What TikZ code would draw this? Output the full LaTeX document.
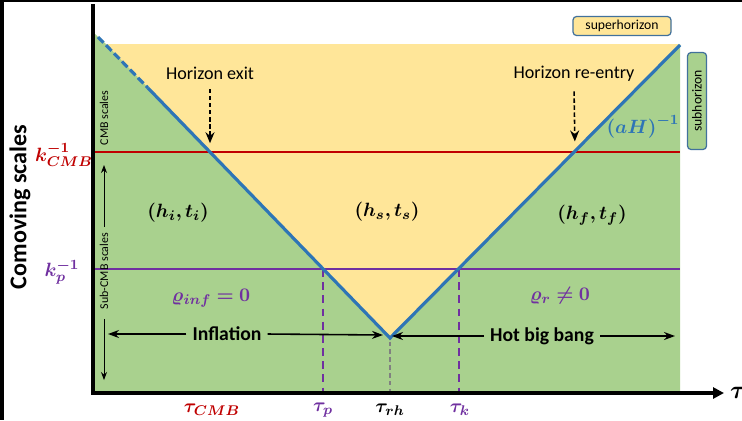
\documentclass[tikz,border=0pt]{standalone}
\usepackage{fontspec}
\setmainfont{Carlito}
\usepackage{bm}
\usetikzlibrary{arrows.meta,positioning,calc}
\definecolor{hzgreen}{HTML}{A9D18E}
\definecolor{hzyellow}{HTML}{FFE699}
\definecolor{hzblue}{HTML}{2E75B6}
\definecolor{cmbred}{HTML}{C00000}
\definecolor{ppurple}{HTML}{7030A0}
\definecolor{boxedge}{HTML}{41719C}
\tikzset{
    axisline/.style={line width=2.3pt},
    hubble/.style={hzblue,line width=1.8pt},
    scaleline/.style={line width=1.1pt},
    droplinep/.style={ppurple,line width=1.1pt,dash pattern=on 4.5pt off 3pt},
    droplinerh/.style={gray,line width=0.6pt,dash pattern=on 2.5pt off 2pt},
    crossarrow/.style={-{Stealth[length=2.2mm,width=1.8mm]},line width=0.9pt,dash pattern=on 2.5pt off 1.5pt},
    eraarrow/.style={-{Stealth[length=2.2mm,width=1.6mm]},line width=0.9pt},
    rangearrow/.style={-{Stealth[length=1.6mm,width=1.2mm]},line width=0.5pt},
    phaselabel/.style={font=\fontsize{11}{13}\selectfont},
    ticklabel/.style={font=\fontsize{11}{13}\selectfont},
    textlabel/.style={font=\fontsize{10.3}{12}\selectfont},
    eralabel/.style={font=\fontsize{11.2}{13}\selectfont\bfseries},
    rangelabel/.style={font=\fontsize{6.8}{8}\selectfont,rotate=90},
    regionbox/.style={draw=boxedge,rounded corners=2pt,line width=0.7pt,inner sep=0pt,font=\fontsize{7.8}{9}\selectfont}
}

\begin{document}
\begin{tikzpicture}[x=0.02cm,y=-0.02cm]
    \useasboundingbox (0,0) rectangle (742,420);
    \fill[white] (0,0) rectangle (742,420);
    \fill[black] (0,0) rectangle (4,420);
    \fill[black] (0,0) rectangle (742,2);
    \coordinate (origin) at (93,393);
    \coordinate (ytop) at (93,4);
    \coordinate (xend) at (724,393);
    \coordinate (hzstart) at (98,37);
    \coordinate (hzdash) at (148,88);
    \coordinate (vtx) at (390,338);
    \coordinate (hzend) at (680,45);
    \coordinate (exit) at (210,152);
    \coordinate (reentry) at (575,152);
    \coordinate (pcross) at (323,269);
    \coordinate (kcross) at (459,269);
    \coordinate (cmbL) at (93,152);
    \coordinate (cmbR) at (680,152);
    \coordinate (pL) at (93,269);
    \coordinate (pR) at (680,269);
    % regions
    \fill[hzgreen] (95,34) -- (106,44) -- (680,44) -- (680,391) -- (95,391) -- cycle;
    \fill[hzyellow] (106,44) -- (vtx) -- (680,45) -- (680,44) -- cycle;
    % scale lines
    \draw[scaleline,cmbred] (cmbL) -- (cmbR);
    \draw[scaleline,ppurple] (pL) -- (pR);
    \draw[droplinep] (pcross) -- (pcross |- origin);
    \draw[droplinep] (kcross) -- (kcross |- origin);
    \draw[droplinerh,shorten <=2pt] (vtx) -- (vtx |- origin);
    % horizon
    \draw[hubble,dash pattern=on 4.5pt off 2pt] (hzstart) -- (hzdash);
    \draw[hubble] (hzdash) -- (vtx) -- (hzend);
    % axes
    \draw[axisline] (ytop) -- ($(origin)+(0,2)$);
    \draw[axisline,-{Triangle[length=2.2mm,width=2.2mm]}] ($(origin)-(2,0)$) -- (xend);
    \node[font=\fontsize{14}{16}\selectfont,right=0pt of xend] (tau) {$\bm{\tau}$};
    \node[rotate=90,font=\fontsize{13.7}{16}\selectfont\bfseries] (ylabel) at (20,207) {Comoving scales};
    \node[ticklabel,text=cmbred] (kcmb) at (64,155) {$\bm{k_{CMB}^{-1}}$};
    \node[ticklabel,text=ppurple] (kp) at (62,272) {$\bm{k_{p}^{-1}}$};
    \node[ticklabel,text=cmbred] (tcmb) at (212,410) {$\bm{\tau_{CMB}}$};
    \node[ticklabel,text=ppurple] (tp) at (323,410) {$\bm{\tau_{p}}$};
    \node[ticklabel] (trh) at (390,410) {$\bm{\tau_{rh}}$};
    \node[ticklabel,text=ppurple] (tk) at (460,410) {$\bm{\tau_{k}}$};
    % scale ranges
    \node[rangelabel] (cmbrange) at (104,118) {CMB scales};
    \node[rangelabel] (subrange) at (104,271) {Sub-CMB scales};
    \coordinate (cmbtop) at (104,165);
    \coordinate (subbottom) at (104,380);
    \draw[rangearrow] (subrange.east) -- (cmbtop);
    \draw[rangearrow,shorten <=2pt] (subrange.west) -- (subbottom);
    % crossings
    \node[textlabel] (exitlabel) at (210,73) {Horizon exit};
    \node[textlabel] (reentrylabel) at (574,74) {Horizon re-entry};
    \draw[crossarrow,shorten <=2pt,shorten >=5pt] (exitlabel.south) -- (exit);
    \draw[crossarrow,shorten <=2pt,shorten >=6pt] (reentrylabel.south) -- (reentry);
    \node[phaselabel,text=hzblue] (hubblelabel) at (643,127) {$\bm{(aH)^{-1}}$};
    % phases
    \node[phaselabel] (hi) at (178,213) {$\bm{(h_i,t_i)}$};
    \node[phaselabel] (hs) at (387,212) {$\bm{(h_s,t_s)}$};
    \node[phaselabel] (hf) at (592,215) {$\bm{(h_f,t_f)}$};
    \node[phaselabel,text=ppurple] (rhoinf) at (211,298) {$\bm{\varrho_{inf}=0}$};
    \node[phaselabel,text=ppurple] (rhor) at (560,296) {$\bm{\varrho_{r}\neq 0}$};
    % eras
    \node[eralabel] (infl) at (227,334) {Inflation};
    \node[eralabel] (hbb) at (542,336) {Hot big bang};
    \coordinate (inflstart) at (108,334);
    \coordinate (inflend) at (383,335);
    \coordinate (hbbstart) at (392,336);
    \coordinate (hbbend) at (675,336);
    \draw[eraarrow] (infl.west) -- (inflstart);
    \draw[eraarrow] (infl.east) -- (inflend);
    \draw[eraarrow] (hbb.west) -- (hbbstart);
    \draw[eraarrow] (hbb.east) -- (hbbend);
    % legend boxes
    \node[regionbox,fill=hzyellow,minimum width=1.96cm,minimum height=0.38cm] (superbox) at (622,26) {superhorizon};
    \node[regionbox,fill=hzgreen,rotate=90,minimum width=1.94cm,minimum height=0.38cm] (subbox) at (697,101) {subhorizon};
\end{tikzpicture}
\end{document}
